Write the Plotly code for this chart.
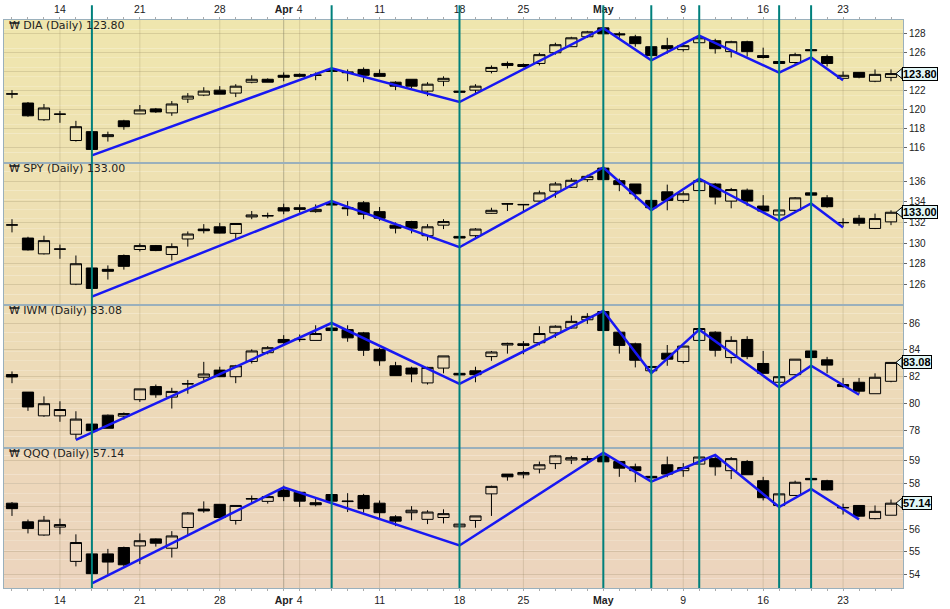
import pandas as pd
import plotly.graph_objects as go

# trading days 9 Mar - 26 May 2011 (Good Friday closed)
dates = [d.strftime("%Y-%m-%d") for d in
         pd.bdate_range("2011-03-09", "2011-05-26", freq="C", holidays=["2011-04-22"])]
x = list(range(len(dates)))
pos = {d: i for i, d in enumerate(dates)}

label_dates = ["2011-03-14", "2011-03-21", "2011-03-28", "2011-04-01", "2011-04-04",
               "2011-04-11", "2011-04-18", "2011-04-25", "2011-05-02", "2011-05-09",
               "2011-05-16", "2011-05-23"]
label_text = ["14", "21", "28", "<b>Apr</b>", "4", "11", "18", "25", "<b>May</b>", "9", "16", "23"]
week_lines = ["2011-03-14", "2011-03-21", "2011-03-28", "2011-04-04", "2011-04-11",
              "2011-04-18", "2011-04-25", "2011-05-09", "2011-05-16", "2011-05-23"]
month_lines = ["2011-04-01", "2011-05-02"]
marker_dates = ["2011-03-16", "2011-04-06", "2011-04-18", "2011-05-02", "2011-05-05",
                "2011-05-10", "2011-05-17", "2011-05-19"]

dia_open = [121.63, 120.69, 118.92, 119.54, 116.73, 117.67, 117.14, 118.81, 119.54, 120.07,
            119.65, 121.11, 121.53, 122.05, 121.74, 122.89, 123.20, 123.62, 123.72, 123.62,
            124.24, 123.98, 124.24, 123.82, 122.89, 123.20, 121.95, 122.99, 121.95, 122.05,
            124.03, 124.87, 124.76, 124.87, 126.00, 126.64, 127.69, 128.63, 128.00, 127.69,
            126.64, 126.75, 126.33, 127.06, 127.27, 126.12, 127.17, 125.70, 125.08, 124.97,
            126.33, 125.60, 123.30, 123.93, 122.99, 123.40]
dia_high = [122.05, 120.80, 120.59, 119.86, 118.81, 117.67, 117.67, 118.92, 120.48, 120.17,
            120.90, 121.74, 122.36, 122.47, 122.68, 123.62, 123.30, 123.93, 123.82, 123.93,
            124.45, 124.24, 124.45, 124.24, 122.99, 123.20, 122.89, 123.51, 121.95, 122.68,
            124.66, 125.08, 124.87, 126.00, 127.06, 127.69, 128.31, 128.73, 128.21, 127.90,
            126.64, 127.58, 127.06, 127.79, 127.48, 127.27, 127.27, 126.54, 125.08, 126.00,
            126.33, 125.80, 124.03, 123.93, 124.24, 124.24]
dia_low = [121.20, 119.24, 118.81, 118.60, 116.62, 115.79, 116.62, 117.87, 119.54, 119.65,
           119.34, 120.69, 121.42, 121.63, 121.32, 122.78, 122.89, 122.99, 123.41, 123.10,
           124.03, 122.99, 122.89, 123.51, 122.05, 122.26, 121.42, 122.47, 121.84, 121.74,
           123.82, 124.35, 124.45, 124.66, 125.80, 126.64, 127.58, 128.00, 127.58, 126.64,
           125.70, 125.91, 126.12, 127.06, 125.91, 125.50, 125.60, 125.39, 124.87, 124.76,
           126.22, 124.55, 123.30, 123.30, 122.89, 122.99]
dia_close = [121.66, 119.34, 120.17, 119.50, 118.19, 115.79, 117.35, 118.19, 119.96, 119.75,
             120.59, 121.42, 121.95, 121.63, 122.47, 123.20, 122.89, 123.41, 123.51, 123.64,
             124.03, 123.90, 123.62, 123.51, 122.47, 122.47, 122.68, 123.30, 121.84, 122.47,
             124.45, 124.66, 124.55, 125.80, 126.85, 127.58, 128.21, 128.00, 127.90, 126.96,
             125.70, 126.43, 126.75, 127.58, 126.43, 127.17, 126.12, 125.50, 124.87, 125.80,
             126.22, 124.87, 123.62, 123.41, 123.72, 123.80]

spy_open = [131.75, 130.50, 128.97, 129.45, 126.03, 127.60, 127.47, 128.81, 129.39, 129.77,
            128.91, 130.41, 131.37, 131.59, 130.95, 132.55, 132.64, 133.44, 133.44, 133.06,
            133.92, 133.44, 133.92, 133.06, 131.75, 132.10, 130.73, 131.75, 130.66, 130.73,
            132.90, 133.83, 133.76, 134.08, 135.04, 135.42, 136.16, 137.28, 136.06, 135.74,
            134.15, 134.98, 134.15, 135.10, 135.74, 134.08, 135.14, 133.60, 132.74, 133.19,
            134.88, 134.40, 131.98, 132.42, 131.43, 132.07]
spy_high = [132.33, 130.63, 130.73, 129.87, 128.81, 127.60, 127.85, 128.91, 129.99, 129.83,
            129.99, 131.14, 131.85, 131.97, 131.91, 133.12, 132.96, 133.83, 133.76, 133.76,
            134.15, 134.08, 134.08, 133.51, 132.01, 132.17, 131.85, 132.33, 130.70, 131.46,
            133.44, 133.86, 133.80, 135.10, 135.94, 136.32, 136.64, 137.34, 136.26, 135.74,
            134.15, 135.68, 135.04, 136.26, 135.84, 135.36, 135.30, 134.66, 133.22, 134.47,
            134.88, 134.66, 132.42, 132.74, 132.87, 133.19]
spy_low = [131.05, 129.29, 128.91, 128.49, 125.94, 125.62, 126.48, 127.44, 129.20, 129.23,
           128.33, 129.67, 130.95, 130.95, 130.41, 132.33, 132.42, 132.81, 132.96, 132.96,
           133.70, 132.65, 132.33, 132.17, 130.95, 130.95, 130.25, 131.37, 130.45, 130.57,
           132.87, 133.12, 133.12, 134.02, 134.40, 135.36, 135.94, 136.16, 135.04, 134.24,
           133.44, 133.19, 133.92, 135.10, 133.76, 133.38, 133.60, 132.96, 132.55, 133.12,
           134.66, 133.44, 131.59, 131.69, 131.37, 131.75]
spy_close = [131.78, 129.35, 130.25, 129.42, 128.01, 125.62, 127.28, 127.76, 129.77, 129.29,
             129.67, 130.89, 131.21, 130.98, 131.91, 132.74, 132.67, 133.12, 133.28, 133.28,
             133.70, 133.35, 132.81, 132.42, 131.46, 131.46, 131.59, 132.10, 130.50, 131.37,
             133.19, 133.80, 133.73, 134.88, 135.74, 136.10, 136.48, 136.16, 135.68, 134.79,
             133.44, 134.15, 134.79, 136.06, 134.47, 135.20, 134.08, 133.12, 133.22, 134.40,
             134.66, 133.54, 132.01, 131.94, 132.39, 133.00]

iwm_open = [82.18, 80.88, 79.12, 79.12, 77.76, 78.51, 79.17, 79.10, 80.32, 81.29,
            80.51, 81.48, 81.98, 82.51, 82.02, 83.15, 83.80, 84.78, 84.77, 84.71,
            85.63, 85.51, 85.27, 84.05, 82.83, 82.66, 81.56, 82.66, 82.27, 82.46,
            83.51, 84.37, 84.46, 84.54, 85.27, 85.63, 86.24, 86.85, 85.32, 84.46,
            82.46, 83.76, 83.15, 84.71, 85.32, 83.44, 84.78, 83.00, 81.61, 82.17,
            83.93, 83.27, 81.44, 81.61, 80.76, 81.68]
iwm_high = [82.41, 80.88, 80.56, 80.20, 79.46, 78.51, 79.22, 79.37, 81.12, 81.44,
            81.20, 81.78, 83.12, 82.76, 82.90, 84.05, 84.29, 85.10, 85.15, 85.83,
            85.88, 85.83, 85.34, 84.17, 83.12, 82.76, 82.76, 83.56, 82.30, 82.76,
            83.93, 84.54, 84.66, 85.76, 85.83, 86.56, 86.73, 86.90, 85.32, 84.54,
            82.83, 84.37, 84.29, 85.59, 85.39, 85.02, 85.02, 83.93, 82.02, 83.32,
            83.93, 83.49, 81.93, 81.93, 82.27, 83.08]
iwm_low = [81.54, 79.49, 79.05, 78.68, 77.39, 78.02, 78.20, 78.85, 80.15, 80.46,
           79.66, 80.76, 81.73, 82.02, 81.54, 83.00, 83.68, 84.41, 84.61, 84.71,
           85.44, 84.61, 83.56, 82.83, 82.10, 81.61, 81.44, 82.27, 82.12, 81.61,
           83.20, 83.73, 83.68, 84.34, 84.90, 85.59, 85.93, 85.44, 83.73, 82.71,
           82.34, 82.83, 83.00, 84.71, 83.51, 83.00, 83.32, 82.27, 81.61, 82.17,
           83.44, 82.27, 81.20, 80.76, 80.76, 81.61]
iwm_close = [82.00, 79.78, 80.02, 79.59, 78.88, 78.02, 78.20, 79.29, 81.12, 80.68,
             80.93, 81.50, 82.22, 82.02, 82.83, 83.93, 84.17, 84.54, 84.79, 85.22,
             85.44, 84.90, 83.98, 83.20, 82.10, 82.22, 82.71, 83.56, 82.15, 82.17,
             83.85, 84.49, 84.34, 85.22, 85.76, 86.12, 86.49, 85.44, 84.34, 83.24,
             82.78, 83.32, 84.29, 85.59, 83.98, 84.71, 83.51, 82.27, 82.02, 83.32,
             83.44, 82.88, 81.29, 80.95, 81.98, 83.08]

qqq_open = [57.14, 56.32, 55.74, 56.09, 54.58, 54.91, 54.91, 55.19, 55.26, 55.57,
            55.16, 56.07, 56.88, 57.09, 56.38, 57.32, 57.22, 57.72, 57.62, 57.16,
            57.52, 57.21, 57.48, 57.14, 56.54, 56.72, 56.43, 56.51, 56.10, 56.38,
            57.55, 58.42, 58.39, 58.64, 58.88, 59.04, 59.10, 59.22, 58.97, 58.74,
            58.32, 58.83, 58.57, 58.86, 59.10, 58.57, 58.97, 58.13, 57.04, 57.48,
            58.23, 58.13, 56.93, 57.04, 56.46, 56.61]
qqq_high = [57.19, 56.42, 56.58, 56.46, 55.77, 54.91, 55.13, 55.23, 55.81, 55.59,
            55.91, 56.75, 57.22, 57.09, 57.04, 57.48, 57.48, 57.91, 57.65, 57.36,
            57.52, 57.58, 57.55, 57.26, 56.61, 57.01, 56.83, 56.87, 56.25, 56.58,
            57.91, 58.42, 58.54, 58.97, 59.26, 59.22, 59.22, 59.36, 58.97, 58.88,
            58.32, 59.19, 58.90, 59.22, 59.22, 59.17, 59.04, 58.30, 57.55, 58.13,
            58.23, 58.17, 57.12, 57.04, 57.04, 57.30]
qqq_low = [56.58, 55.81, 55.71, 55.77, 54.36, 54.04, 54.00, 54.36, 54.46, 55.23,
           54.75, 55.74, 56.72, 56.51, 56.20, 57.12, 57.12, 57.23, 56.97, 57.00,
           57.23, 56.75, 56.72, 56.49, 56.13, 56.39, 56.22, 56.25, 56.08, 56.06,
           56.58, 58.13, 58.23, 58.45, 58.64, 58.86, 58.96, 58.96, 58.30, 58.06,
           58.25, 58.28, 58.30, 58.86, 58.35, 58.20, 58.39, 57.26, 57.04, 57.48,
           58.17, 57.70, 56.64, 56.54, 56.43, 56.61]
qqq_close = [56.90, 56.03, 56.39, 56.20, 55.41, 54.04, 54.55, 54.43, 55.49, 55.38,
             55.70, 56.71, 56.80, 56.51, 57.04, 57.34, 57.43, 57.43, 57.23, 57.07,
             57.23, 57.23, 56.90, 56.72, 56.35, 56.83, 56.75, 56.68, 56.22, 56.58,
             57.88, 58.30, 58.49, 58.83, 59.22, 59.14, 59.04, 58.96, 58.68, 58.57,
             58.25, 58.42, 58.71, 59.17, 58.74, 59.10, 58.39, 57.38, 57.55, 58.06,
             58.17, 57.72, 56.95, 56.57, 56.78, 57.14]

# hand-drawn zigzag trend lines
dia_zz_dates = ["2011-03-16", "2011-04-06", "2011-04-18", "2011-05-02", "2011-05-05",
                "2011-05-10", "2011-05-17", "2011-05-19", "2011-05-23"]
dia_zz_vals = [115.16, 124.35, 120.80, 128.60, 125.20, 127.80, 123.90, 125.50, 123.10]
spy_zz_dates = dia_zz_dates
spy_zz_vals = [124.82, 134.08, 129.61, 137.34, 133.19, 136.26, 132.17, 133.86, 131.53]
iwm_zz_dates = ["2011-03-15", "2011-04-06", "2011-04-18", "2011-05-02", "2011-05-05",
                "2011-05-10", "2011-05-17", "2011-05-19", "2011-05-24"]
iwm_zz_vals = [77.34, 86.00, 81.49, 86.90, 82.29, 85.51, 81.24, 82.83, 80.68]
qqq_zz_dates = ["2011-03-16", "2011-04-01", "2011-04-18", "2011-05-02", "2011-05-05",
                "2011-05-11", "2011-05-17", "2011-05-19", "2011-05-24"]
qqq_zz_vals = [53.61, 57.84, 55.28, 59.36, 58.09, 59.26, 56.97, 57.77, 56.43]

panels = [
    ("DIA", dia_open, dia_high, dia_low, dia_close, dia_zz_dates, dia_zz_vals,
     [0.7478, 1.0], [114.33, 129.46], 2),
    ("SPY", spy_open, spy_high, spy_low, spy_close, spy_zz_dates, spy_zz_vals,
     [0.4991, 0.7478], [124.06, 137.75], 2),
    ("IWM", iwm_open, iwm_high, iwm_low, iwm_close, iwm_zz_dates, iwm_zz_vals,
     [0.2470, 0.4991], [76.76, 87.37], 2),
    ("QQQ", qqq_open, qqq_high, qqq_low, qqq_close, qqq_zz_dates, qqq_zz_vals,
     [0.0, 0.2470], [53.41, 59.58], 1),
]

frame = "#9AB0BC"
grid = "rgba(130,120,80,0.22)"
tick_font = dict(family="Liberation Sans", size=10, color="#222")

fig = go.Figure()
layout = dict(
    width=950, height=609,
    margin=dict(l=3, r=47, t=15, b=19),
    paper_bgcolor="white", plot_bgcolor="rgba(0,0,0,0)",
    showlegend=False, boxgap=0.3, boxgroupgap=0,
    annotations=[], shapes=[],
)

# soft vertical colour gradient behind the panels
top_c, bot_c = (239, 230, 174), (236, 212, 190)
n_bands = 60
for k in range(n_bands):
    t = k / (n_bands - 1)
    c = tuple(round(top_c[j] + (bot_c[j] - top_c[j]) * t) for j in range(3))
    layout["shapes"].append(dict(type="rect", xref="paper", yref="paper",
                                 x0=0, x1=1, y0=1 - (k + 1) / n_bands, y1=1 - k / n_bands,
                                 fillcolor="rgb(%d,%d,%d)" % c, line_width=0, layer="below"))
for d in week_lines:
    layout["shapes"].append(dict(type="line", xref="x", yref="paper", x0=pos[d], x1=pos[d],
                                 y0=0, y1=1, line=dict(color=grid, width=1), layer="below"))
for d in month_lines:
    layout["shapes"].append(dict(type="line", xref="x", yref="paper", x0=pos[d], x1=pos[d],
                                 y0=0, y1=1, line=dict(color="rgba(110,110,90,0.45)", width=1),
                                 layer="below"))

ticktext = [dict(zip(label_dates, label_text)).get(d, "") for d in dates]

for i, (name, o, h, l, c, zd, zv, dom, yr, step) in enumerate(panels):
    n = "" if i == 0 else str(i + 1)
    xa, ya = "x" + n, "y" + n
    fig.add_trace(go.Candlestick(
        x=x, open=o, high=h, low=l, close=c, xaxis=xa, yaxis=ya, hoverinfo="skip",
        increasing=dict(line=dict(color="black", width=1), fillcolor="rgba(0,0,0,0)"),
        decreasing=dict(line=dict(color="black", width=1), fillcolor="black"),
    ))
    fig.add_trace(go.Scatter(
        x=[pos[d] for d in zd], y=zv, mode="lines", xaxis=xa, yaxis=ya,
        line=dict(color="#1818F2", width=2.5), hoverinfo="skip",
    ))
    xaxis = dict(range=[-0.5, 55.75], anchor=ya, showgrid=False, zeroline=False,
                 showline=True, mirror=True, linecolor=frame, linewidth=1,
                 rangeslider=dict(visible=False), tickvals=x, ticktext=ticktext,
                 showticklabels=False, ticks="")
    if i == 0:
        xaxis.update(side="top", showticklabels=True, ticks="outside", ticklen=2,
                     tickcolor="#aaa", tickfont=dict(family="Liberation Sans", size=10.5, color="#222"))
    elif i == 3:
        xaxis.update(side="bottom", showticklabels=True, ticks="outside", ticklen=2,
                     tickcolor="#aaa", tickfont=dict(family="Liberation Sans", size=10.5, color="#222"))
    if i > 0:
        xaxis["matches"] = "x"
    layout["xaxis" + n] = xaxis
    layout["yaxis" + n] = dict(domain=dom, range=yr, anchor=xa, side="right",
                               dtick=step, tick0=0, showgrid=True, gridcolor=grid, gridwidth=1,
                               zeroline=False, showline=True, mirror=True, linecolor=frame,
                               ticks="outside", ticklen=3, tickcolor="#666", tickfont=tick_font)

    last = c[-1]
    layout["annotations"].append(dict(
        text="₩ %s (Daily) %.2f" % (name, last), xref=xa + " domain", yref=ya + " domain",
        x=0, y=1, xanchor="left", yanchor="top", xshift=3, yshift=3, showarrow=False,
        font=dict(family="DejaVu Sans", size=11, color="#222")))
    layout["annotations"].append(dict(
        text="<b>%.2f</b>" % last, xref="paper", yref=ya, x=1, y=last,
        xanchor="left", yanchor="middle", xshift=-1, showarrow=False,
        bgcolor="#E2F7F7", bordercolor="black", borderwidth=1, borderpad=0,
        font=dict(family="Liberation Sans", size=11, color="black")))
    layout["shapes"].append(dict(
        type="path", xref="paper", yref=ya, xsizemode="pixel", ysizemode="pixel",
        xanchor=1, yanchor=last, path="M -7 0 L -1 5 L -1 -5 Z",
        fillcolor="#E2F7F7", line=dict(color="black", width=1), layer="above"))

for d in marker_dates:
    layout["shapes"].append(dict(type="line", xref="x", yref="paper", x0=pos[d], x1=pos[d],
                                 y0=0, y1=1 + 15 / 575, line=dict(color="#00807C", width=2),
                                 layer="above"))

fig.update_layout(**layout)
# drop the page's default body margin so the 950x609 figure sits at the window corner
fig.write_html("out.html", config={"displayModeBar": False},
               post_script="document.body.style.margin='0px';")
